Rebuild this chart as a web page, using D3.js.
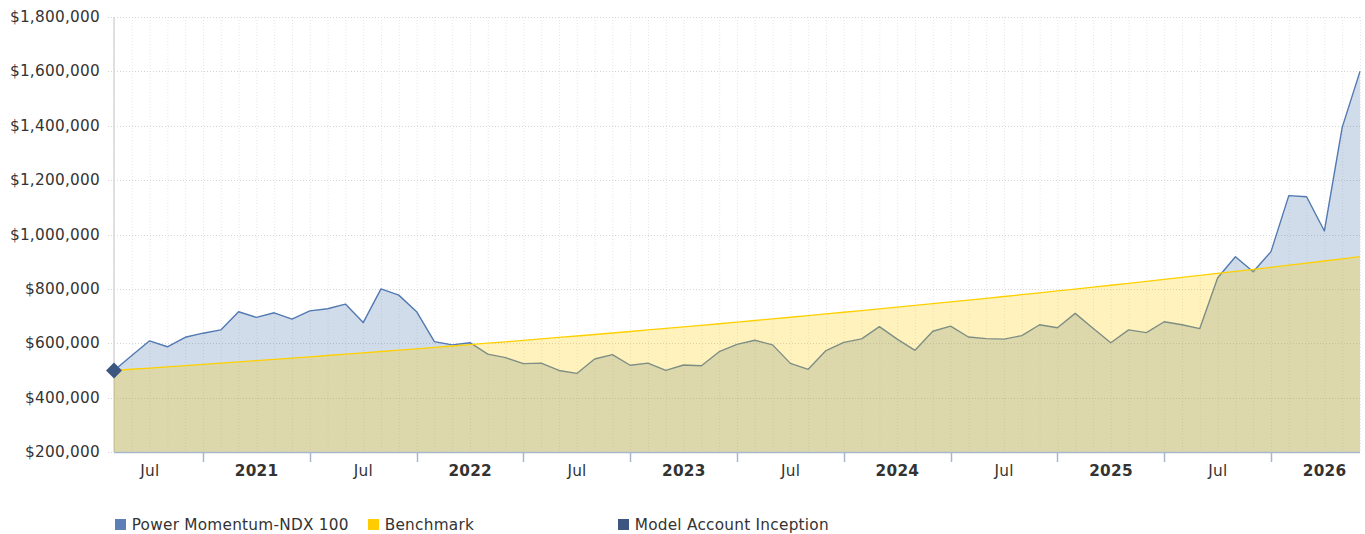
<!DOCTYPE html>
<html>
<head>
<meta charset="utf-8">
<script src="https://cdn.jsdelivr.net/npm/d3@7"></script>
<style>
  html, body { margin: 0; padding: 0; background: #fff; }
  svg { display: block; font-family: "DejaVu Sans", Verdana, sans-serif; }
  svg text { letter-spacing: 0.25px; }
</style>
</head>
<body>
<svg id="chart" width="1365" height="534"></svg>
<script>
// ---------- DATA ----------
const startMonth = "2020-05";
const endMonth = "2026-03";

const strategyName = "Power Momentum-NDX 100";
const strategyValues = [
  500000, 555000, 609000, 587000, 622000, 637000, 649000, 716000, 695000, 712000,
  689000, 719000, 727000, 744000, 676000, 800000, 777000, 716000, 606000, 594000,
  602000, 560000, 547000, 525000, 527000, 500000, 489000, 542000, 558000, 519000,
  527000, 500000, 520000, 517000, 569000, 596000, 611000, 594000, 526000, 504000,
  573000, 603000, 616000, 661000, 615000, 574000, 644000, 663000, 623000, 617000,
  615000, 628000, 668000, 657000, 710000, 655000, 602000, 649000, 639000, 679000,
  668000, 654000, 840000, 918000, 863000, 937000, 1143000, 1139000, 1013000, 1394000,
  1600000
];

const benchmarkName = "Benchmark";
const benchmarkValues = [
  500000, 504400, 508800, 513200, 517700, 522200, 526800, 531400, 536000, 540700,
  545400, 550200, 555000, 559800, 564700, 569600, 574600, 579600, 584700, 589800,
  594900, 600100, 605300, 610600, 615900, 621300, 626700, 632200, 637700, 643300,
  648900, 654600, 660300, 666000, 671800, 677700, 683600, 689600, 695600, 701700,
  707800, 714000, 720200, 726500, 732800, 739200, 745700, 752200, 758700, 765300,
  772000, 778700, 785500, 792400, 799300, 806300, 813300, 820400, 827600, 834800,
  842100, 849400, 856800, 864300, 871800, 879400, 887100, 894800, 902600, 910500,
  918400
];

const inceptionName = "Model Account Inception";
const inceptionMonth = "2020-05";
const inceptionValue = 500000;

const yTicks = [200000, 400000, 600000, 800000, 1000000, 1200000, 1400000, 1600000, 1800000];
const xLabelMonths = ["2020-07", "2021-01", "2021-07", "2022-01", "2022-07", "2023-01",
                      "2023-07", "2024-01", "2024-07", "2025-01", "2025-07", "2026-01"];
const xTickMonths = ["2020-10", "2021-04", "2021-10", "2022-04", "2022-10", "2023-04",
                     "2023-10", "2024-04", "2024-10", "2025-04", "2025-10"];

// ---------- SETUP ----------
const parseM = d3.utcParse("%Y-%m");
const months = d3.utcMonth.range(parseM(startMonth), d3.utcMonth.offset(parseM(endMonth), 1));
const strategy = months.map((d, i) => ({ date: d, value: strategyValues[i] }));
const benchmark = months.map((d, i) => ({ date: d, value: benchmarkValues[i] }));

const plotL = 114, plotR = 1360, plotT = 17, plotB = 452;
const svg = d3.select("#chart");

// ordinal-like uniform month spacing
const idx = d => d3.utcMonth.count(months[0], d);
const xi = d3.scaleLinear().domain([0, months.length - 1]).range([plotL, plotR]);
const x = d => xi(idx(d));
const y = d3.scaleLinear().domain([200000, 1800000]).range([plotB, plotT]);

const textColor = "#333333";
const fontSize = 15.3;

// ---------- GRID ----------
const grid = svg.append("g");
grid.selectAll("line.vg").data(months).enter().append("line")
  .attr("x1", d => x(d) + 0.5).attr("x2", d => x(d) + 0.5)
  .attr("y1", plotT).attr("y2", plotB)
  .attr("stroke", "#e6e6e6").attr("stroke-width", 1).attr("stroke-dasharray", "1,2");
grid.selectAll("line.hg").data(yTicks).enter().append("line")
  .attr("x1", plotL - 6).attr("x2", plotR)
  .attr("y1", d => Math.round(y(d)) + 0.5).attr("y2", d => Math.round(y(d)) + 0.5)
  .attr("stroke", "#d4d4d4").attr("stroke-width", 1).attr("stroke-dasharray", "1,2");

// y axis line
svg.append("line").attr("x1", plotL).attr("x2", plotL).attr("y1", plotT).attr("y2", plotB)
  .attr("stroke", "#d6d6d6").attr("stroke-width", 1.5);

// ---------- SERIES ----------
const area = d3.area().x(d => x(d.date)).y0(y(200000)).y1(d => y(d.value));
const line = d3.line().x(d => x(d.date)).y(d => y(d.value));

svg.append("path").datum(strategy).attr("d", area)
  .attr("fill", "#4572A7").attr("fill-opacity", 0.25);
svg.append("path").datum(strategy).attr("d", line)
  .attr("fill", "none").attr("stroke", "#5279b2").attr("stroke-width", 1.4)
  .attr("stroke-linejoin", "round");

svg.append("path").datum(benchmark).attr("d", area)
  .attr("fill", "#FFCC00").attr("fill-opacity", 0.26);
svg.append("path").datum(benchmark).attr("d", line)
  .attr("fill", "none").attr("stroke", "#FFD000").attr("stroke-width", 1.3);

// ---------- X AXIS ----------
const xAxisG = svg.append("g");
xAxisG.append("line").attr("x1", plotL).attr("x2", plotR)
  .attr("y1", plotB + 0.5).attr("y2", plotB + 0.5)
  .attr("stroke", "#a8b6cc").attr("stroke-width", 1.5);
xAxisG.selectAll("line.tk").data(xTickMonths.map(parseM)).enter().append("line")
  .attr("x1", d => Math.round(x(d)) + 0.5).attr("x2", d => Math.round(x(d)) + 0.5)
  .attr("y1", plotB).attr("y2", plotB + 10)
  .attr("stroke", "#a8b6cc").attr("stroke-width", 1.5);
xAxisG.selectAll("text").data(xLabelMonths.map(parseM)).enter().append("text")
  .attr("x", d => x(d) + 0.2).attr("y", 475.5)
  .attr("text-anchor", "middle")
  .attr("font-size", fontSize)
  .attr("font-weight", d => d.getUTCMonth() === 0 ? "bold" : "normal")
  .attr("fill", textColor)
  .text(d => d.getUTCMonth() === 0 ? d3.utcFormat("%Y")(d) : d3.utcFormat("%b")(d));

// ---------- Y AXIS LABELS ----------
const fmt = v => "$" + d3.format(",")(v);
svg.append("g").selectAll("text").data(yTicks).enter().append("text")
  .attr("x", 100).attr("y", d => y(d) + 5)
  .attr("text-anchor", "end").attr("font-size", fontSize).attr("fill", textColor)
  .text(fmt);

// ---------- INCEPTION MARKER ----------
svg.append("path")
  .attr("d", d3.symbol(d3.symbolSquare, 128)())
  .attr("transform", `translate(${x(parseM(inceptionMonth))},${y(inceptionValue)}) rotate(45)`)
  .attr("fill", "#3c5680");

// ---------- LEGEND ----------
const legendItems = [
  { name: strategyName, color: "#5b7fb6", x: 115 },
  { name: benchmarkName, color: "#FFCC00", x: 368 },
  { name: inceptionName, color: "#3c5680", x: 618 }
];
const lg = svg.append("g").selectAll("g").data(legendItems).enter().append("g")
  .attr("transform", d => `translate(${d.x},519)`);
lg.append("rect").attr("width", 11).attr("height", 11).attr("fill", d => d.color);
lg.append("text").attr("x", 16.7).attr("y", 10.5).attr("font-size", fontSize)
  .attr("fill", textColor).text(d => d.name);
</script>
</body>
</html>
